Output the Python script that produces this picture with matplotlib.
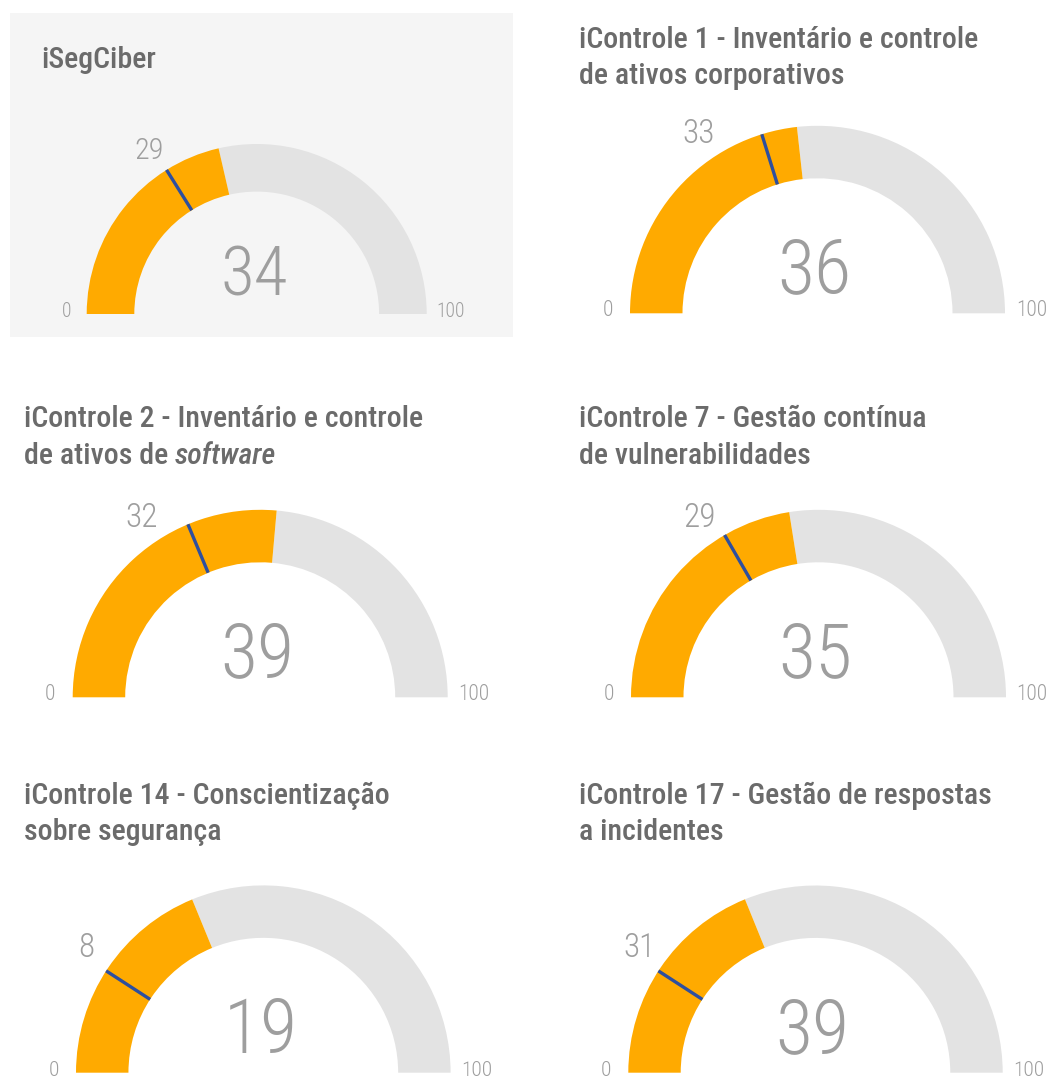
import matplotlib.pyplot as plt
import numpy as np
from matplotlib.patches import Wedge, Rectangle

# gauge data
titles = ['iSegCiber',
          'iControle 1 - Inventário e controle\nde ativos corporativos',
          'iControle 2 - Inventário e controle\nde ativos de *software*',
          'iControle 7 - Gestão contínua\nde vulnerabilidades',
          'iControle 14 - Conscientização\nsobre segurança',
          'iControle 17 - Gestão de respostas\na incidentes']
values = [34, 36, 39, 35, 19, 39]
targets = [29, 33, 32, 29, 8, 31]
# where the fill end and the marker sit on the 0-100 arc, as drawn in the source
value_pos = [42.8, 46.5, 52.8, 45.0, 37.6, 37.7]
target_pos = [32.2, 40.4, 37.4, 33.3, 18.3, 18.3]
scale_min, scale_max = 0, 100

# layout (pixels, from top-left)
W, H = 1051, 1080
centers = [(256.7, 314), (817.5, 313.3), (260.2, 697.3),
           (818.5, 697.3), (263.3, 1072.7), (815.5, 1072.7)]
radii = [170, 187.5, 187.5, 187.5, 187.3, 187.2]
title_xy = [(41, 68), (579, 48), (24, 427), (579, 427), (24, 804), (579, 804)]

ORANGE = '#FFAA00'
GREY = '#E3E3E3'
BLUE = '#2E4F9E'
TITLE_C = '#6B6B6B'
NUM_C = '#9E9E9E'
FONT = ['Roboto Condensed', 'Lato', 'DejaVu Sans']
plt.rcParams['font.family'] = FONT

fig = plt.figure(figsize=(W / 100, H / 100), dpi=100)
ax = fig.add_axes([0, 0, 1, 1])
ax.set_xlim(0, W)
ax.set_ylim(0, H)
ax.axis('off')

# grey card behind the first gauge
ax.add_patch(Rectangle((10, H - 337), 503, 324, color='#F5F5F5', lw=0, zorder=0))


def draw_title(x, y, text):
    for k, line in enumerate(text.split('\n')):
        prev = None
        for j, part in enumerate(line.split('*')):
            if not part:
                continue
            style = 'italic' if j % 2 else 'normal'
            if prev is None:
                prev = ax.text(x, H - (y + 36.5 * k), part, fontsize=21.5, color=TITLE_C,
                               style=style, ha='left', va='baseline', fontweight='medium')
            else:
                prev = ax.annotate(part, xy=(1, 0), xycoords=prev, fontsize=21.5,
                                   color=TITLE_C, style=style, ha='left', va='bottom',
                                   fontweight='medium')


def to_angle(v):
    return 180 - 180 * (v - scale_min) / (scale_max - scale_min)


for i in range(6):
    cx, cy_top = centers[i]
    cy = H - cy_top
    r = radii[i]
    ri = r * 0.72
    s = r / 187.5
    a_val = to_angle(value_pos[i])
    a_tgt = to_angle(target_pos[i])

    ax.add_patch(Wedge((cx, cy), r, 0, a_val, width=r - ri, color=GREY, lw=0))
    ax.add_patch(Wedge((cx, cy), r, a_val, 180, width=r - ri, color=ORANGE, lw=0))
    t = np.radians(a_tgt)
    ax.plot([cx + ri * np.cos(t), cx + r * np.cos(t)],
            [cy + ri * np.sin(t), cy + r * np.sin(t)],
            color=BLUE, lw=2.4, solid_capstyle='butt')

    # target label
    la = np.radians(np.clip(a_tgt, 123, 144))
    ax.text(cx + 1.165 * r * np.cos(la), cy + 1.165 * r * np.sin(la), str(targets[i]),
            fontsize=24 * s, color=NUM_C, ha='center', va='center_baseline',
            fontweight='light')

    # scale ends
    ax.text(cx - 1.12 * r, cy - 3, str(scale_min), fontsize=15.5 * s, color=NUM_C,
            ha='center', va='baseline', fontweight='light')
    ax.text(cx + 1.14 * r, cy - 3, str(scale_max), fontsize=15.5 * s, color=NUM_C,
            ha='center', va='baseline', fontweight='light')

    # value in the middle
    ax.text(cx - 3, cy + 20 * s, str(values[i]), fontsize=55 * s, color=NUM_C,
            ha='center', va='baseline', fontweight='light')

    draw_title(title_xy[i][0], title_xy[i][1], titles[i])

fig.savefig('out.png', dpi=100)
